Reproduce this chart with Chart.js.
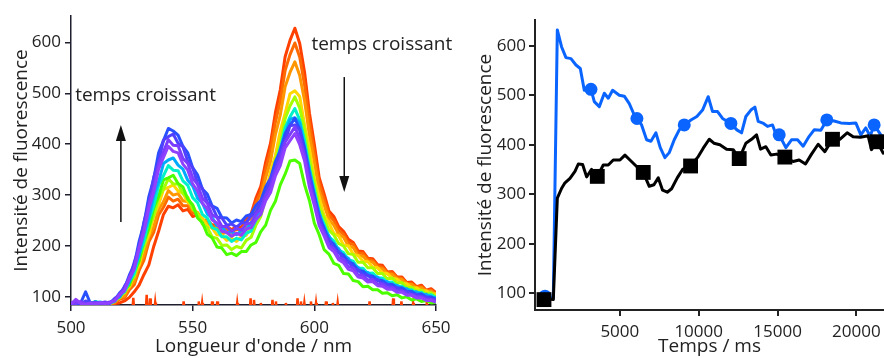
<!DOCTYPE html>
<html lang="fr">
<head>
    <meta charset="UTF-8">
    <title>Intensité de fluorescence</title>
    <script src="https://cdn.jsdelivr.net/npm/chart.js"></script>
    <style>
        body {
            margin: 0;
            background: #fff;
            width: 884px;
            height: 358px;
            overflow: hidden;
            position: relative;
        }
        #spectres { position: absolute; left: 0; top: 0; }
        #cinetique { position: absolute; left: 440px; top: 0; }
    </style>
</head>
<body>
<canvas id="spectres" width="470" height="358"></canvas>
<canvas id="cinetique" width="444" height="358"></canvas>
<script>
// longueurs d'onde (nm)
const lam = [500,502,504,506,508,510,512,514,516,518,520,522,524,526,528,530,532,534,536,538,540,
    542,544,546,548,550,552,554,556,558,560,562,564,566,568,570,572,574,576,578,580,582,584,586,588,590,592,
    594,596,598,600,602,604,606,608,610,612,614,616,618,620,622,624,626,628,630,632,634,636,638,640,642,644,646,648,650];

// spectres, du premier (orange) au dernier (violet)
const specRouge = [87,88,87,86,88,87,88,86,88, 87,88,92,99,110,123,144,163,199,229,262,278,
    275,281,269,272,258,261,249,251,241,243,235,239,232, 238,236,254,263,294,317,365,402,462,507,572,604,628,
    598,541,461,400,334,303,269,258,238,229,213,207,190,189,176,175,163,162,149,150,139,139,128,129,120,123,113,116,108];
const specOrange = [88,86,87,89,86,88,86,88,87, 88,95,98,114,124,152,172,208,227,261,276,296,
    288,292,279,279,265,263,251,250,239,240,231,234,227, 233,231,248,256,285,306,351,387,443,485,545,576,599,
    571,516,441,383,323,293,261,250,231,223,206,203,186,185,174,171,161,158,148,147,138,136,127,126,119,120,112,113,106];
const specAmbre = [87,88,86,88,89,86,88,87,86, 90,98,102,119,131,161,183,218,238,272,287,309,
    300,303,289,287,270,266,251,248,235,235,224,227,219, 225,222,238,246,272,293,334,366,419,457,513,541,562,
    535,485,417,365,308,281,252,241,223,217,200,197,181,180,170,168,157,155,145,144,135,134,125,124,117,118,110,111,104];
const specJaune = [88,87,89,86,88,87,86,88,87, 94,98,111,120,144,163,200,222,260,281,311,315,
    320,308,304,286,280,261,255,239,235,222,221,211,215, 209,218,221,239,250,280,304,346,378,426,461,499,505,
    494,438,391,332,296,260,246,225,220,202,200,184,181,170,169,158,157,147,146,136,135,127,126,117,118,111,112,105,106];
const specChartreuse = [86,89,87,90,86,88,87,89,87, 92,102,108,127,140,174,198,236,259,296,312,332,
    322,322,303,296,273,264,243,236,218,215,201,202,193, 199,196,211,217,241,258,294,321,368,401,450,475,493,
    471,428,370,326,278,256,231,222,205,200,185,183,168,168,157,157,146,146,135,137,127,128,118,119,111,113,106,108,100];
const specVert = [87,92,88,87,89,86,88,87,88, 95,99,114,123,149,170,210,234,275,297,330,334,
    339,323,316,292,281,255,246,223,216,198,196,183,186, 181,189,189,202,207,228,241,270,288,320,341,367,369,
    362,320,289,245,222,193,184,166,162,146,145,132,130,120,121,114,114,107,108,102,104,98,100,94,96,91,93,88,89];
const specCyan = [88,86,89,88,86,91,88,86,87, 91,103,110,131,146,183,209,252,279,319,338,358,
    349,348,328,319,295,285,262,255,236,232,218,218,209, 215,212,225,229,251,265,297,321,360,390,432,454,470,
    448,407,352,311,265,243,218,210,192,187,173,170,156,156,146,147,137,137,128,129,121,121,114,114,107,109,102,104,98];
const specAzur = [87,88,86,89,87,88,90,87,88, 96,100,116,129,156,182,225,255,299,326,362,369,
    373,359,351,329,318,294,284,263,256,240,237,226,228, 222,230,232,246,254,279,296,329,353,391,418,449,452,
    442,392,350,298,266,233,220,200,195,178,176,161,158,148,148,139,139,130,130,122,123,115,116,108,110,103,105,98,99];
const specBleu = [89,86,88,110,87,90,87,86,89, 94,108,117,143,163,209,244,297,332,383,407,431,
    426,418,396,383,354,340,312,302,279,274,256,255,245, 251,248,259,262,280,289,316,333,366,387,421,437,451,
    429,393,339,301,256,236,211,204,187,182,168,165,151,151,141,141,132,132,124,125,117,118,110,111,104,106,99,100,95];
const specIndigo = [87,90,86,92,88,86,88,90,87, 97,103,121,136,168,197,248,283,335,365,408,415,
    420,402,395,366,354,323,313,286,278,257,255,241,243, 237,245,246,259,266,288,301,332,351,386,407,436,438,
    428,379,340,289,259,225,213,194,189,173,170,156,153,143,143,134,134,125,125,118,118,111,111,104,105,100,100,95,95];
const specViolet = [88,87,91,86,87,89,86,88,90, 92,106,115,139,158,199,233,283,315,361,385,409,
    398,397,372,362,334,321,294,284,261,256,239,238,229, 235,231,243,245,263,272,299,316,349,370,404,419,434,
    411,377,324,288,245,227,201,195,177,174,159,157,143,142,133,134,125,126,117,119,111,112,105,105,100,100,95,95,91];
const specPourpre = [86,95,87,85,88,86,89,87,88, 93,104,112,136,155,195,227,274,306,351,374,396,
    386,383,361,349,322,308,284,273,251,245,229,227,219, 225,221,233,236,252,262,289,305,338,358,393,407,421,
    399,367,315,280,240,220,197,189,173,167,154,151,139,137,129,130,122,121,115,115,109,109,103,103,98,98,93,93,89];

const spectra = [specRouge, specOrange, specAmbre, specJaune, specChartreuse, specVert,
    specCyan, specAzur, specBleu, specIndigo, specViolet, specPourpre];
const specColors = ['#ff4000', '#ff6a00', '#ff9600', '#ffd800', '#a6ff00', '#4cff00',
    '#00f0c8', '#00aaff', '#2850ff', '#5040ff', '#7a3cff', '#9040ff'];

// bruit du premier spectre, au ras de l'axe
const redNm = [525.3,525.6,525.9, 530.8,531.1,531.4, 532.2,532.5,532.8, 534.3,534.6,534.9, 546.0,546.3,546.6,
    552.2,552.5,552.8, 553.6,553.9,554.2, 557.7,558.0,558.3, 559.8,560.1,560.4, 568.0,568.3,568.6,
    573.5,573.8,574.1, 574.9,575.2,575.5, 577.7,578.0,578.3, 582.5,582.8,583.1, 583.9,584.2,584.5,
    588.0,588.3,588.6, 592.8,593.1,593.4, 594.2,594.5,594.8, 595.6,595.9,596.2, 598.3,598.6,598.9,
    600.4,600.7,601.0, 604.5,604.8,605.1, 607.3,607.6,607.9, 609.3,609.6,609.9, 622.4,622.7,623.0,
    632.1,632.4,632.7, 635.5,635.8,636.1, 640.3,640.6,640.9, 645.9,646.2,646.5];
const redVal = [76,98,76, 76,104,76, 76,97,76, 76,89,76, 76,91,76, 76,91,76, 76,88,76, 76,91,76, 76,91,76,
    76,88,76, 76,97,76, 76,94,76, 76,88,76, 76,94,76, 76,91,76, 76,88,76, 76,97,76, 76,91,76, 76,88,76,
    76,91,76, 76,88,76, 76,91,76, 76,88,76, 76,88,76, 76,91,76, 76,97,76, 76,91,76, 76,88,76, 76,91,76];

// cinétique (ms)
const blueT = [200,781,1035,1302,1584,1900,2217,2492,2745,3168,3380,3697,4014,4267,4542,4964,5281,5598,5914,6083,
    6379,6696,6971,7288,7563,7858,8133,8450,8767,9083,9506,9886,10245,10604,10879,11196,11513,12041,12421,12717,
    12991,13308,13562,13773,14111,14365,14682,14830,15104,15527,15886,16266,16625,17005,17322,17745,18125,18590,
    19013,19541,19963,20280,20597,20872,21125,21548,21750];
const blueV = [93,90,632,598,576,574,561,554,510,512,487,477,504,494,510,500,498,483,460,453,
    440,410,407,424,394,374,384,410,430,440,450,457,470,497,467,467,453,443,430,424,
    457,470,476,447,443,437,440,427,420,394,410,410,397,417,430,429,450,448,
    444,443,444,420,434,417,440,420,415];
const blackT = [190,781,1035,1310,1521,1838,2155,2366,2640,2893,3210,3570,3950,4267,4584,5006,5323,5640,6062,6484,
    6865,7161,7435,7710,8006,8281,8640,8978,9485,9971,10288,10668,10964,11344,11767,12189,12569,12991,13350,13667,
    13920,14259,14576,14935,15464,15991,16371,16773,17153,17576,17998,18484,18949,19414,19794,20259,20745,20956,
    21315,21696,21750];
const blackV = [89,87,292,312,323,332,346,361,360,335,350,336,359,359,369,369,379,369,356,344,
    316,319,333,308,304,311,333,350,357,376,393,411,403,400,391,390,372,403,411,420,
    391,396,379,381,375,366,369,361,381,401,386,411,411,424,416,415,418,390,
    406,383,385];
const blueMarkT = [253, 3168, 6083, 9083, 12041, 15104, 18125, 21125];
const blueMarkV = [94, 512, 453, 440, 443, 420, 450, 440];
const blackMarkT = [190, 3570, 6484, 9485, 12569, 15464, 18484, 21315];
const blackMarkV = [87, 336, 344, 357, 372, 375, 411, 406];

// graduations
const xTicksNm = [500, 550, 600, 650];
const xTicksMs = [5000, 10000, 15000, 20000];
const yTicks = [100, 200, 300, 400, 500, 600];

Chart.defaults.font.family = "'Open Sans', sans-serif";
Chart.defaults.color = '#222';

const pts = (xs, ys) => xs.map((x, i) => ({x: x, y: ys[i]}));
const setTicks = list => s => { s.ticks = list.map(v => ({value: v})); };

function axis(extra) {
    return Object.assign({
        type: 'linear',
        grid: { drawOnChartArea: false, drawTicks: true, tickLength: 6, color: '#1e1e2e', lineWidth: 1.5 },
        border: { display: true, color: '#1e1e2e', width: 1.5 },
        ticks: { color: '#222', font: { size: 17 }, maxRotation: 0, callback: v => String(v) }
    }, extra);
}

// flèches et textes "temps croissant"
const arrowPlugin = {
    id: 'fleches',
    afterDatasetsDraw(chart) {
        const ctx = chart.ctx;
        const x = chart.scales.x, y = chart.scales.y;
        ctx.save();
        ctx.strokeStyle = '#111';
        ctx.fillStyle = '#111';
        ctx.lineWidth = 1.5;
        [[520.5, 247, 438], [612.3, 532, 306]].forEach(a => {
            const px = x.getPixelForValue(a[0]);
            const y0 = y.getPixelForValue(a[1]);
            const y1 = y.getPixelForValue(a[2]);
            const dir = y1 < y0 ? 1 : -1;
            ctx.beginPath();
            ctx.moveTo(px, y0);
            ctx.lineTo(px, y1 + dir * 12);
            ctx.stroke();
            ctx.beginPath();
            ctx.moveTo(px, y1);
            ctx.lineTo(px - 5, y1 + dir * 16);
            ctx.lineTo(px + 5, y1 + dir * 16);
            ctx.closePath();
            ctx.fill();
        });
        ctx.font = "19px 'Open Sans'";
        ctx.fillStyle = '#222';
        ctx.textBaseline = 'middle';
        ctx.fillText('temps croissant', x.getPixelForValue(501.7), y.getPixelForValue(495));
        ctx.fillText('temps croissant', x.getPixelForValue(598.8), y.getPixelForValue(595));
        ctx.restore();
    }
};

const specDatasets = spectra.map((s, i) => ({
    data: pts(lam, s),
    borderColor: specColors[i],
    borderWidth: 3,
    borderJoinStyle: 'round',
    pointRadius: 0,
    order: spectra.length - i
}));
specDatasets.push({
    data: pts(redNm, redVal),
    borderColor: '#ff4000',
    borderWidth: 2.5,
    pointRadius: 0,
    order: 20
});

new Chart(document.getElementById('spectres'), {
    type: 'line',
    data: { datasets: specDatasets },
    options: {
        responsive: false,
        animation: false,
        events: [],
        layout: { autoPadding: false, padding: { left: 0, top: 16, right: 34, bottom: 0 } },
        plugins: { legend: { display: false }, tooltip: { enabled: false } },
        scales: {
            x: axis({
                min: 500, max: 650,
                afterBuildTicks: setTicks(xTicksNm),
                afterFit: s => { s.height = 53; },
                ticks: { color: '#222', font: { size: 17 }, padding: 7, maxRotation: 0, callback: v => String(v) },
                title: { display: true, text: "Longueur d'onde / nm", color: '#222', font: { size: 19 }, padding: { top: 0, bottom: 0 } }
            }),
            y: axis({
                min: 84, max: 652,
                afterBuildTicks: setTicks(yTicks),
                afterFit: s => { s.width = 71; },
                ticks: { color: '#222', font: { size: 17 }, padding: 4, callback: v => String(v) },
                title: { display: true, text: 'Intensité de fluorescence', color: '#222', font: { size: 19 }, padding: { top: 10, bottom: 0 } }
            })
        }
    },
    plugins: [arrowPlugin]
});

new Chart(document.getElementById('cinetique'), {
    type: 'line',
    data: {
        datasets: [
            { data: pts(blueT, blueV), borderColor: '#0a64ff', borderWidth: 3, borderJoinStyle: 'round', pointRadius: 0, order: 3 },
            { data: pts(blueMarkT, blueMarkV), showLine: false, pointStyle: 'circle', pointRadius: 6.5,
              backgroundColor: '#0a64ff', borderWidth: 0, order: 2 },
            { data: pts(blackT, blackV), borderColor: '#000', borderWidth: 3, borderJoinStyle: 'round', pointRadius: 0, order: 1 },
            { data: pts(blackMarkT, blackMarkV), showLine: false, pointStyle: 'rect', pointRadius: 10.5,
              backgroundColor: '#000', borderWidth: 0, order: 0 }
        ]
    },
    options: {
        responsive: false,
        animation: false,
        events: [],
        layout: { autoPadding: false, padding: { left: 0, top: 20, right: 0, bottom: 0 } },
        plugins: { legend: { display: false }, tooltip: { enabled: false } },
        scales: {
            x: axis({
                min: -380, max: 21750,
                afterBuildTicks: setTicks(xTicksMs),
                afterFit: s => { s.height = 48; s.paddingLeft = 0; s.paddingRight = 0; },
                grid: { drawOnChartArea: false, drawTicks: true, tickLength: 6, color: '#222', lineWidth: 2 },
                border: { display: true, color: '#222', width: 2 },
                ticks: { color: '#222', font: { size: 17 }, padding: 6, maxRotation: 0, callback: v => String(v) },
                title: { display: true, text: 'Temps / ms', color: '#222', font: { size: 19 }, padding: { top: 0, bottom: 0 } }
            }),
            y: axis({
                min: 66, max: 652,
                afterBuildTicks: setTicks(yTicks),
                afterFit: s => { s.width = 95; },
                grid: { drawOnChartArea: false, drawTicks: true, tickLength: 6, color: '#222', lineWidth: 2 },
                border: { display: true, color: '#222', width: 2 },
                ticks: { color: '#222', font: { size: 17 }, padding: 3, callback: v => String(v) },
                title: { display: true, text: 'Intensité de fluorescence', color: '#222', font: { size: 19 }, padding: { top: 34, bottom: 0 } }
            })
        }
    }
});
</script>
</body>
</html>
